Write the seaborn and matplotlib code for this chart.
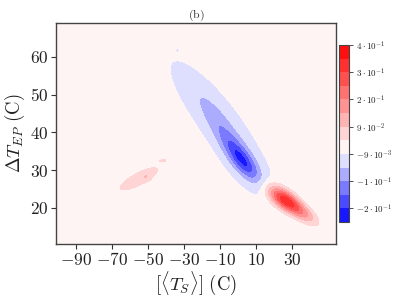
import numpy as np
import matplotlib
matplotlib.use("Agg")
import matplotlib.pyplot as plt
import matplotlib.colors as mcolors
import seaborn as sns

# ---- data: blobs that make up the plotted field ----
blob_x = [-12.0, 3.0, -3.0, 25.5, 35.0, -55.0, -51.0, -41.7, -33.5]
blob_y = [44.0, 32.0, 36.0, 22.3, 19.0, 27.7, 28.2, 32.6, 61.8]
blob_amp = [-0.075, -0.16, -0.07, 0.29, 0.14, 0.066, 0.035, 0.046, -0.014]
blob_s_along = [19.0, 9.5, 13.0, 7.0, 7.5, 12.0, 1.5, 1.6, 0.8]
blob_s_across = [5.3, 4.0, 4.0, 3.3, 2.8, 3.3, 1.5, 0.6, 0.8]
blob_angle = [-51.8, -51.8, -51.8, -36.0, -36.0, 28.0, 0.0, 10.0, 0.0]
y_scale = 2.1

x_ticks = [-90, -70, -50, -30, -10, 10, 30]
y_ticks = [20, 30, 40, 50, 60]
x_lim = (-101.1, 54.4)
y_lim = (10.45, 69.0)
levels = np.linspace(-0.259, 0.391, 14)
cbar_ticks = levels[1::2]

title = r"$\mathrm{(b)}$"
x_label = r"$[\langle T_S\rangle]\ \mathrm{(C)}$"
y_label = r"$\Delta T_{EP}\ \mathrm{(C)}$"

# ---- build field ----
gx = np.linspace(x_lim[0], x_lim[1], 200)
gy = np.linspace(y_lim[0], y_lim[1], 150)
X, Y = np.meshgrid(gx, gy)
Z = np.zeros_like(X)
for cx, cy, a, su, sv, ang in zip(blob_x, blob_y, blob_amp, blob_s_along,
                                   blob_s_across, blob_angle):
    t = np.deg2rad(ang)
    dx = X - cx
    dy = (Y - cy) * y_scale
    u = dx * np.cos(t) + dy * np.sin(t)
    v = -dx * np.sin(t) + dy * np.cos(t)
    Z += a * np.exp(-0.5 * ((u / su) ** 2 + (v / sv) ** 2))

sns.set_style("ticks")
plt.rcParams["mathtext.fontset"] = "cm"
plt.rcParams["font.family"] = ["DejaVu Serif"]

fig = plt.figure(figsize=(4.07, 3.0), dpi=100)
ax = fig.add_axes([0.1376, 0.1867, 0.688, 0.7367])
cax = fig.add_axes([0.833, 0.26, 0.0246, 0.59])

norm = mcolors.TwoSlopeNorm(vmin=levels[0], vcenter=0.0, vmax=levels[-1])
cs = ax.contourf(X, Y, Z, levels=levels, cmap="bwr", norm=norm, extend="neither")

ax.set_xlim(*x_lim)
ax.set_ylim(*y_lim)
ax.set_xticks(x_ticks)
ax.set_yticks(y_ticks)
ax.set_xticklabels([r"$%d$" % v for v in x_ticks])
ax.set_yticklabels([r"$%d$" % v for v in y_ticks])
ax.tick_params(labelsize=12.5, length=3.5, width=0.8, colors="#333333",
               labelcolor="#222222", pad=2)
for s in ax.spines.values():
    s.set_color("#444444")
    s.set_linewidth(1.0)
ax.set_xlabel(x_label, fontsize=13.5, color="#222222", labelpad=1)
ax.set_ylabel(y_label, fontsize=13.5, color="#222222", labelpad=2)
ax.set_title(title, fontsize=8.5, color="#333333", pad=4)

cb = fig.colorbar(cs, cax=cax, ticks=cbar_ticks)


def fmt(v):
    e = int(np.floor(np.log10(abs(v))))
    m = int(round(v / 10 ** e))
    return r"$%d\cdot 10^{%d}$" % (m, e)


cb.ax.set_yticklabels([fmt(v) for v in cbar_ticks])
cb.ax.tick_params(labelsize=6.5, length=3, width=0.6, colors="#333333",
                  labelcolor="#222222", pad=2)
cb.outline.set_edgecolor("#444444")
cb.outline.set_linewidth(0.8)

fig.savefig("out.png", dpi=100)
